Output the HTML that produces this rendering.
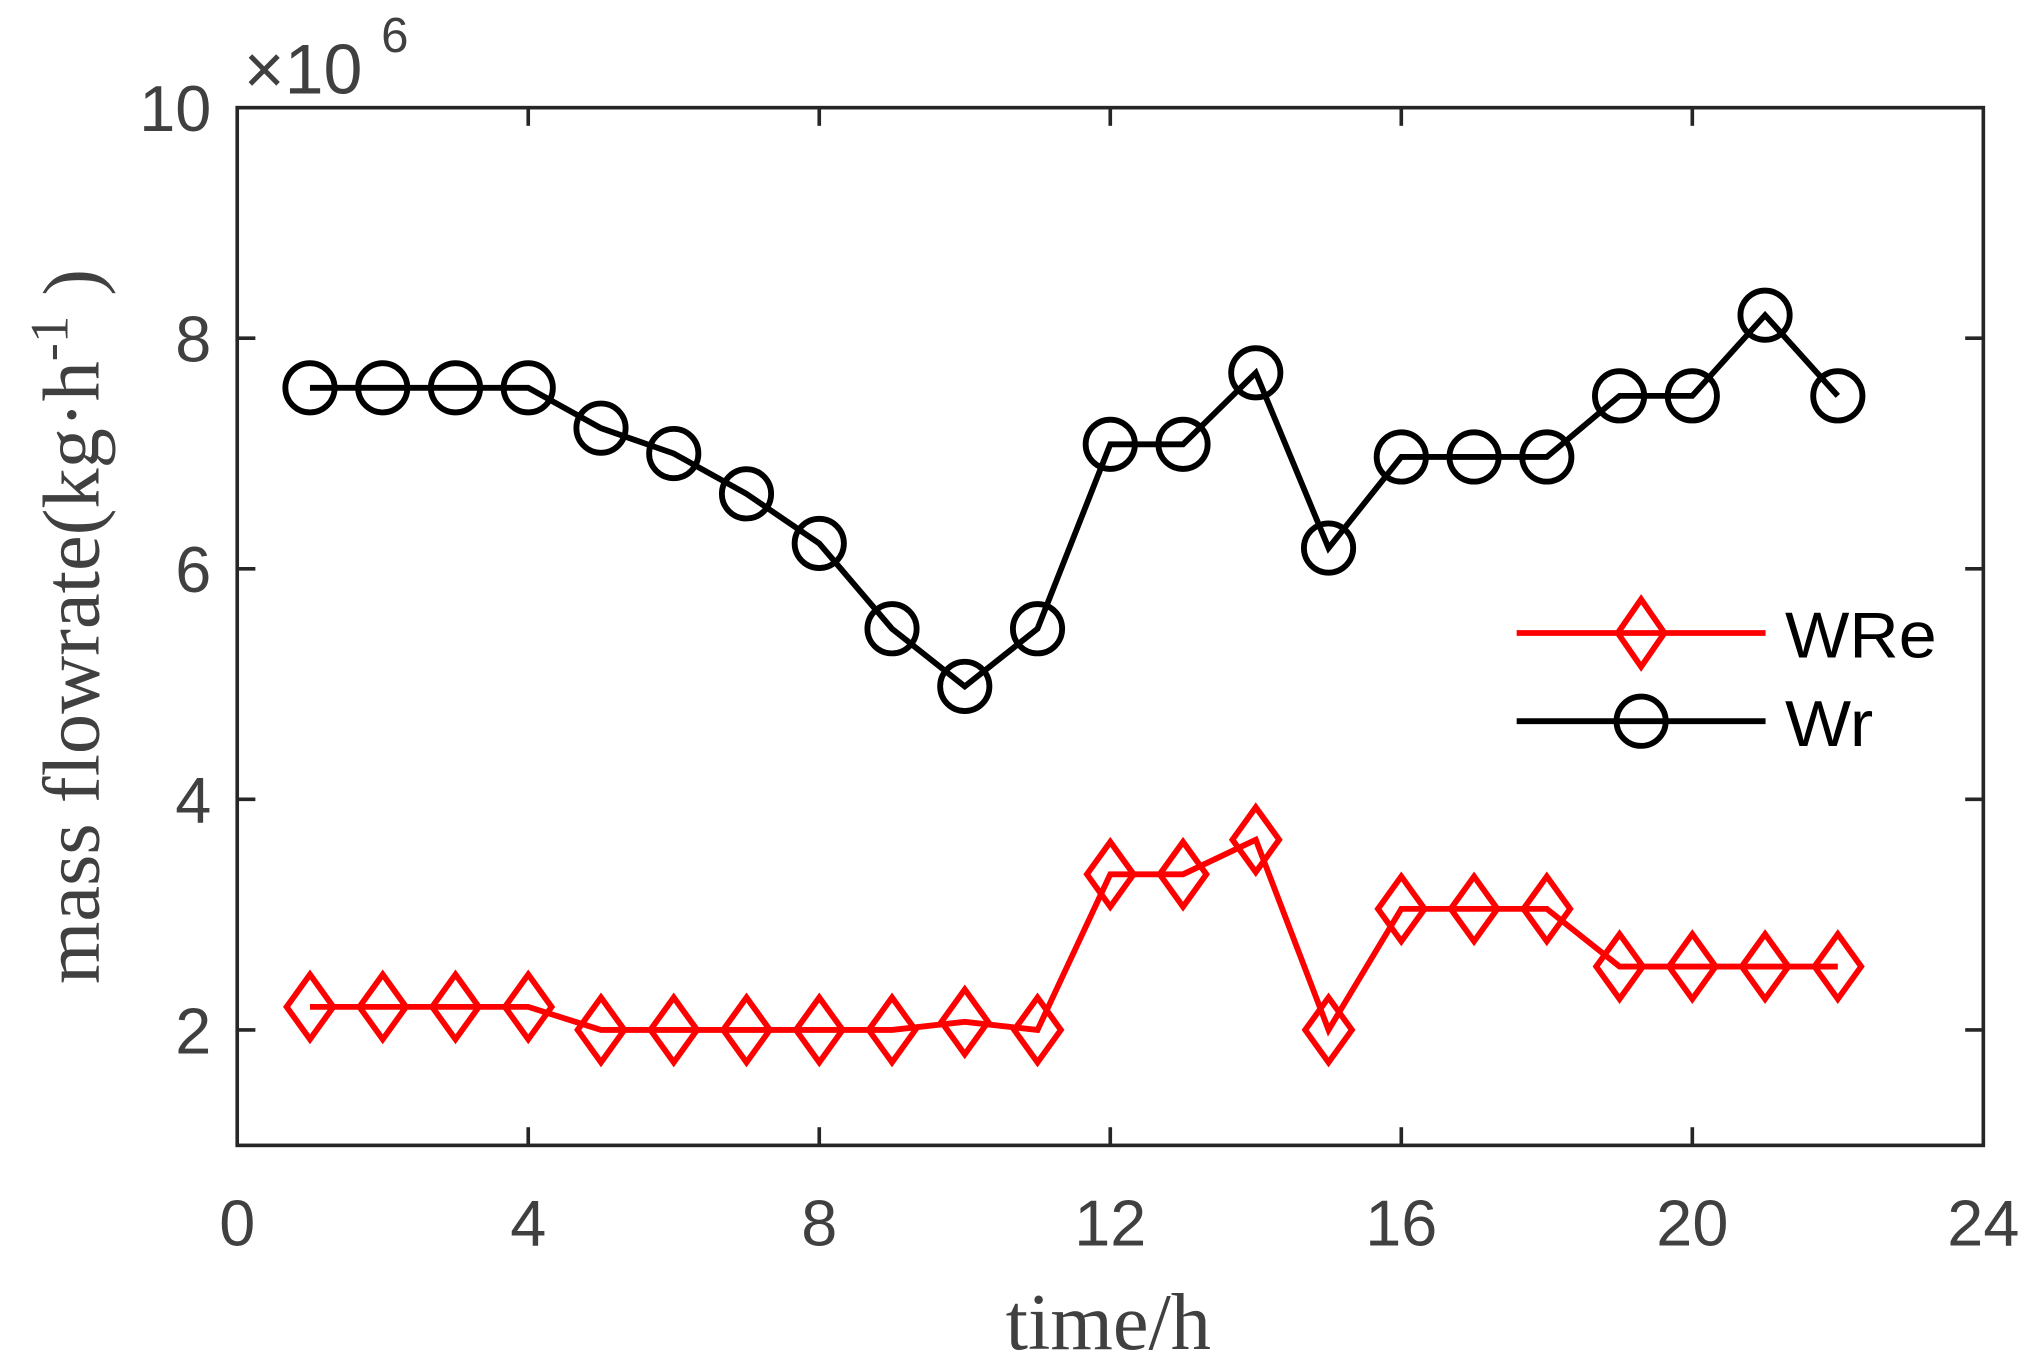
<!DOCTYPE html>
<html><head><meta charset="utf-8"><style>html,body{margin:0;padding:0;background:#fff}svg{display:block}</style></head>
<body>
<svg id="s" width="2030" height="1362" viewBox="0 0 1566 1050" preserveAspectRatio="none" xmlns="http://www.w3.org/2000/svg">
<rect x="0" y="0" width="1566" height="1050" fill="#fff"/>
<g id="ticks" stroke="#262626" stroke-width="2.8"></g>
<rect x="183" y="83" width="1347" height="800" fill="none" stroke="#262626" stroke-width="2.8"/>
<g id="lab" font-family="Liberation Sans, sans-serif" font-size="50" fill="#404040"></g>
<text x="188" y="72" font-family="Liberation Sans, sans-serif" font-size="54" fill="#404040">×10</text>
<text x="294" y="40" font-family="Liberation Sans, sans-serif" font-size="38" fill="#404040">6</text>
<text x="855" y="1040" text-anchor="middle" font-family="Liberation Serif, serif" font-size="62" fill="#404040">time/h</text>
<text transform="translate(76,483) rotate(-90)" text-anchor="middle" font-family="Liberation Serif, serif" font-size="62" fill="#404040">mass flowrate(kg·h<tspan dy="-24" font-size="42">-1</tspan><tspan dy="24"> )</tspan></text>
<g id="d"></g>
<g>
<line x1="1170" y1="488" x2="1362" y2="488" stroke="#f00" stroke-width="4.5"/>
<polygon points="1266,462 1284,488 1266,514 1248,488" fill="none" stroke="#f00" stroke-width="4.5"/>
<line x1="1170" y1="556" x2="1362" y2="556" stroke="#000" stroke-width="4.5"/>
<circle cx="1266" cy="556" r="19" fill="none" stroke="#000" stroke-width="4.5"/>
<text x="1377" y="507" font-family="Liberation Sans, sans-serif" font-size="50" fill="#000" textLength="117" lengthAdjust="spacingAndGlyphs">WRe</text>
<text x="1377" y="575" font-family="Liberation Sans, sans-serif" font-size="50" fill="#000" textLength="68" lengthAdjust="spacingAndGlyphs">Wr</text>
</g>
</svg>
<script>
var NS="http://www.w3.org/2000/svg";
function X(t){return 183+t*56.125}
function Y(v){return 83+(10-v)*88.875}
function el(p,n,a,txt){var e=document.createElementNS(NS,n);for(var k in a)e.setAttribute(k,a[k]);if(txt!=null)e.textContent=txt;document.getElementById(p).appendChild(e);return e}
for(var t=0;t<=24;t+=4){var x=X(t);
 if(t>0&&t<24){el("ticks","line",{x1:x,y1:883,x2:x,y2:869});el("ticks","line",{x1:x,y1:83,x2:x,y2:97});}
 el("lab","text",{x:x,y:960,"text-anchor":"middle"},String(t));}
[2,4,6,8,10].forEach(function(v){var y=Y(v);
 if(v<10){el("ticks","line",{x1:183,y1:y,x2:197,y2:y});el("ticks","line",{x1:1530,y1:y,x2:1516,y2:y});}
 el("lab","text",{x:163,y:y+18,"text-anchor":"end"},String(v));});
var wr=[7.57,7.57,7.57,7.57,7.22,7.0,6.65,6.22,5.48,4.98,5.48,7.08,7.08,7.7,6.18,6.97,6.97,6.97,7.5,7.5,8.2,7.5];
var we=[2.2,2.2,2.2,2.2,2.0,2.0,2.0,2.0,2.0,2.07,2.0,3.35,3.35,3.65,2.0,3.05,3.05,3.05,2.55,2.55,2.55,2.55];
function pts(a){return a.map(function(v,i){return X(i+1)+","+Y(v)}).join(" ")}
el("d","polyline",{points:pts(we),fill:"none",stroke:"#f00","stroke-width":4.5});
we.forEach(function(v,i){var x=X(i+1),y=Y(v);el("d","polygon",{points:x+","+(y-25)+" "+(x+18)+","+y+" "+x+","+(y+25)+" "+(x-18)+","+y,fill:"none",stroke:"#f00","stroke-width":4.5});});
el("d","polyline",{points:pts(wr),fill:"none",stroke:"#000","stroke-width":4.5});
wr.forEach(function(v,i){el("d","circle",{cx:X(i+1),cy:Y(v),r:19,fill:"none",stroke:"#000","stroke-width":4.5});});
</script>
</body></html>
